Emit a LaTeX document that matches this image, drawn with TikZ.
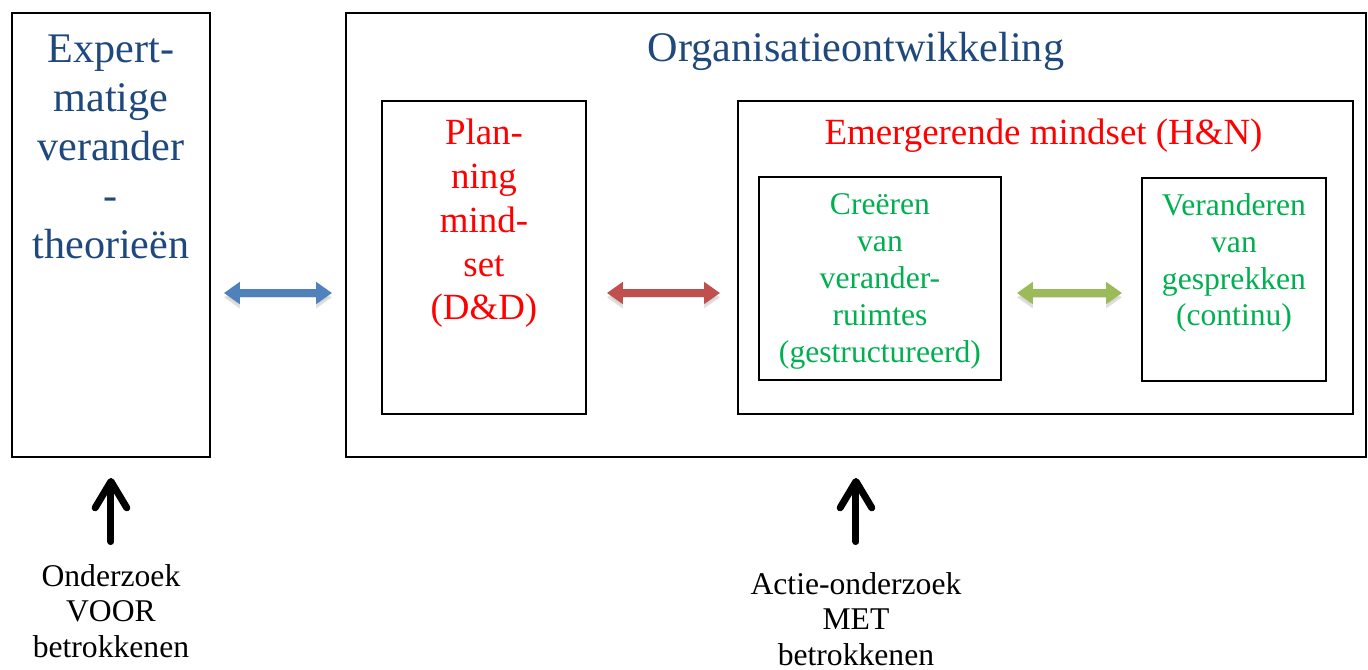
\documentclass[tikz,border=0pt]{standalone}
\usepackage{fontspec}
\setmainfont{Liberation Serif}
\usetikzlibrary{arrows.meta,positioning}

\definecolor{titleblue}{RGB}{31,73,125}
\definecolor{arrowblue}{RGB}{79,129,189}
\definecolor{arrowred}{RGB}{192,80,77}
\definecolor{arrowgreen}{RGB}{155,187,89}
\definecolor{textgreen}{RGB}{0,176,80}

\tikzset{
  frame/.style={draw, line width=1.1pt, inner sep=0pt, anchor=north west},
  bigtitle/.style={text=titleblue, align=center, inner sep=0pt, anchor=base,
    font=\fontsize{24}{27.8}\selectfont},
  redtitle/.style={text=red, align=center, inner sep=0pt, anchor=base,
    font=\fontsize{21}{25}\selectfont},
  greentext/.style={text=textgreen, align=center, inner sep=0pt, anchor=base,
    font=\fontsize{18}{21}\selectfont},
  research/.style={align=center, inner sep=0pt, anchor=base,
    font=\fontsize{18}{20.1}\selectfont},
  fatarrow/.style={line width=4pt,
    {Triangle[width=12pt,length=9pt]}-{Triangle[width=12pt,length=9pt]},
    preaction={draw=black!20, opacity=0.6, transform canvas={yshift=-2.5pt}}},
  uparrow/.style={line width=4pt, line cap=round,
    -{Straight Barb[round,length=15pt,width=18pt]}}
}

\begin{document}
\begin{tikzpicture}
  \useasboundingbox (0,0) rectangle (27.36,-13.40);

  % boxes
  \node[frame, minimum width=3.96cm, minimum height=8.88cm] (expert) at (0.22,-0.24) {};
  \node[frame, minimum width=20.40cm, minimum height=8.88cm] (org) at (6.90,-0.24) {};
  \node[frame, minimum width=4.08cm, minimum height=6.26cm] (plan) at (7.62,-2.00) {};
  \node[frame, minimum width=12.30cm, minimum height=6.26cm] (emerg) at (14.74,-2.00) {};
  \node[frame, minimum width=4.84cm, minimum height=4.06cm] (ruimte) at (15.16,-3.52) {};
  \node[frame, minimum width=3.68cm, minimum height=4.06cm] (gesprek) at (22.82,-3.54) {};

  % titles
  \node[bigtitle] (experttxt) at (expert.north |- 0,-5.16)
    {Expert-\\matige\\verander\\-\\theorieën};
  \node[bigtitle] (orgtxt) at (org.north |- 0,-1.24) {Organisatieontwikkeling};
  \node[redtitle] (plantxt) at (plan.north |- 0,-6.40)
    {Plan-\\ning\\mind-\\set\\(D\&D)};
  \node[redtitle] (emergtxt) at (20.87,-2.90) {Emergerende mindset (H\&N)};
  \node[greentext] (ruimtetxt) at (ruimte.north |- 0,-7.24)
    {Creëren\\van\\verander-\\ruimtes\\(gestructureerd)};
  \node[greentext] (gesprektxt) at (gesprek.north |- 0,-6.52)
    {Veranderen\\van\\gesprekken\\(continu)};

  % research labels
  \node[research] (voor) at (expert.south |- 0,-13.14)
    {Onderzoek\\VOOR\\betrokkenen};
  \node[research] (met) at (org.south |- 0,-13.30)
    {Actie-onderzoek\\MET\\betrokkenen};

  % connectors
  \coordinate (arrowrow) at (0,-5.86);
  \draw[fatarrow, arrowblue, shorten <=0.26cm, shorten >=0.26cm]
    (expert.east |- arrowrow) -- (org.west |- arrowrow);
  \draw[fatarrow, arrowred, shorten <=0.40cm, shorten >=0.34cm]
    (plan.east |- arrowrow) -- (emerg.west |- arrowrow);
  \draw[fatarrow, arrowgreen, shorten <=0.30cm, shorten >=0.38cm]
    (ruimte.east |- arrowrow) -- (gesprek.west |- arrowrow);

  \draw[uparrow, shorten <=0.45cm, shorten >=0.40cm] (voor.north) -- (expert.south);
  \draw[uparrow, shorten <=0.61cm, shorten >=0.40cm] (met.north) -- (org.south);
\end{tikzpicture}
\end{document}
